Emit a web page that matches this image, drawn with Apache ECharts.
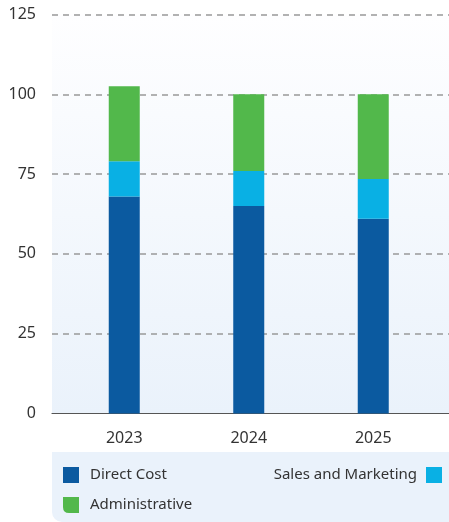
<!DOCTYPE html>
<html lang="en">
<head>
    <meta charset="UTF-8">
    <title>Cost breakdown</title>
    <style>
        html, body { margin: 0; padding: 0; background: #fff; }
    </style>
</head>
<body>
<div id="main" style="width: 449px; height: 522px;"></div>

<script src="https://cdn.jsdelivr.net/npm/echarts@6/dist/echarts.min.js"></script>
<script type="text/javascript">
    var years = ['2023', '2024', '2025'];
    var directCost = [68, 65, 61];
    var salesMarketing = [11, 11, 12.5];
    var administrative = [23.5, 24, 26.5];
    var yTicks = [0, 25, 50, 75, 100, 125];

    var fontName = 'Noto Sans';
    var leafIcon = 'path://M0,0 L16,0 L16,16 L6,16 Q0,16 0,10 Z';

    function legendItem(name, pos, icon) {
        var lg = {
            data: [{name: name, icon: icon || 'rect'}],
            top: pos.top,
            padding: 0,
            itemWidth: 16, itemHeight: 16,
            textStyle: { fontSize: 15, color: '#333', padding: [0, 0, 0, 6] }
        };
        if (pos.right != null) {
            lg.right = pos.right;
            lg.align = 'right';
            lg.textStyle.padding = [0, 4, 0, 0];
        } else {
            lg.left = pos.left;
        }
        return lg;
    }

    var myChart = echarts.init(document.getElementById('main'));
    var option = {
        animation: false,
        textStyle: { fontFamily: fontName },
        // legend box under the plot
        graphic: [{
            type: 'rect',
            left: 52, top: 452,
            shape: { width: 397, height: 70, r: [0, 0, 0, 10] },
            style: { fill: '#eaf2fb' },
            z: -1
        }],
        legend: [
            legendItem('Direct Cost', {left: 63, top: 467}),
            legendItem('Sales and Marketing', {right: 7, top: 467}),
            legendItem('Administrative', {left: 63, top: 497}, leafIcon)
        ],
        grid: [
            {   // background, grid lines and axis line
                left: 52, right: 0, top: 14.5, bottom: 108.5,
                show: true, borderWidth: 0,
                backgroundColor: new echarts.graphic.LinearGradient(0, 0, 0, 1, [
                    {offset: 0, color: '#fefeff'},
                    {offset: 1, color: '#eaf2fb'}
                ])
            },
            {   // bars
                left: 62, right: 13.5, top: 14.5, bottom: 108.5
            }
        ],
        xAxis: [
            {
                gridIndex: 0,
                type: 'category',
                data: years,
                axisLine: { lineStyle: { color: '#555', width: 1.2 } },
                axisTick: { show: false },
                axisLabel: { show: false }
            },
            {
                gridIndex: 1,
                type: 'category',
                data: years,
                axisLine: { show: false },
                axisTick: { show: false },
                axisLabel: { fontSize: 16, color: '#333', margin: 17 }
            }
        ],
        yAxis: [
            {
                gridIndex: 0,
                type: 'value',
                min: yTicks[0], max: yTicks[yTicks.length - 1], interval: 25,
                axisLine: { show: false },
                axisTick: { show: false },
                axisLabel: { fontSize: 16, color: '#333', margin: 16 },
                splitLine: {
                    showMinLine: false,
                    lineStyle: { color: '#999', type: [6, 5], width: 1.5 }
                }
            },
            {
                gridIndex: 1,
                type: 'value',
                min: yTicks[0], max: yTicks[yTicks.length - 1], interval: 25,
                show: false,
                splitLine: { show: false }
            }
        ],
        series: [
            {
                name: 'Direct Cost', type: 'bar', stack: 'cost',
                xAxisIndex: 1, yAxisIndex: 1,
                barWidth: 31,
                itemStyle: { color: '#0b5aa0' },
                data: directCost
            },
            {
                name: 'Sales and Marketing', type: 'bar', stack: 'cost',
                xAxisIndex: 1, yAxisIndex: 1,
                barWidth: 31,
                itemStyle: { color: '#09b0e4' },
                data: salesMarketing
            },
            {
                name: 'Administrative', type: 'bar', stack: 'cost',
                xAxisIndex: 1, yAxisIndex: 1,
                barWidth: 31,
                itemStyle: { color: '#52b84b' },
                data: administrative
            }
        ]
    };
    myChart.setOption(option);
</script>

</body>
</html>
